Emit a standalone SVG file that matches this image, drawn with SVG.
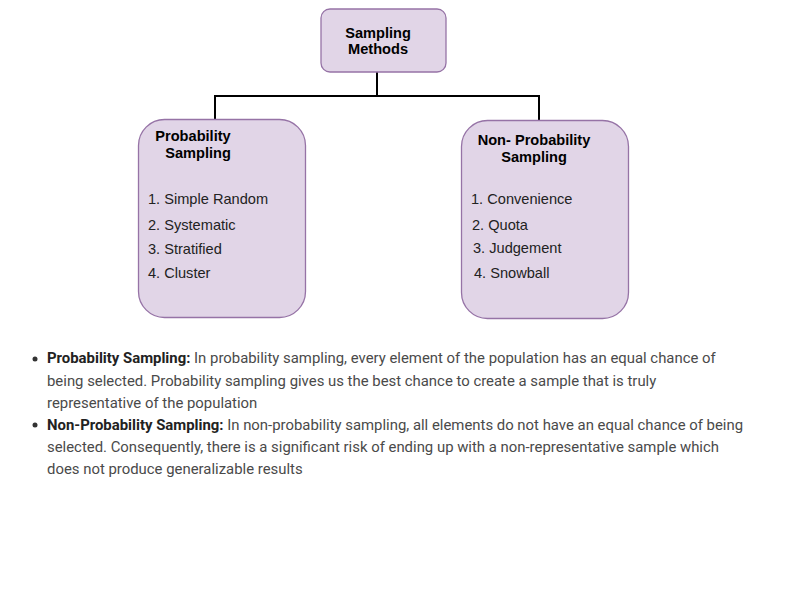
<svg xmlns="http://www.w3.org/2000/svg" width="800" height="600" viewBox="0 0 800 600">
<style>
.box{fill:#e1d5e7;stroke:#9673a6;stroke-width:1.3}
.t{font-family:"Liberation Sans",Arial,sans-serif;font-size:14.6px;font-weight:bold;fill:#000}
.i{font-family:"Liberation Sans",Arial,sans-serif;font-size:14.6px;fill:#222}
.p{font-family:Roboto,"Liberation Sans",sans-serif;font-size:14.9px;fill:#4a4a4a}
.b{font-weight:bold;fill:#222}
.c{fill:none;stroke:#000;stroke-width:2}
</style>
<rect width="800" height="600" fill="#fff"/>
<g id="connectors">
<path class="c" d="M377 72V96M215 96H539M215 95V119M539 95V120"/>
</g>
<g id="root">
<rect class="box" x="321" y="9" width="125" height="63" rx="9"/>
<text class="t" x="378" y="38" text-anchor="middle">Sampling</text>
<text class="t" x="378" y="54" text-anchor="middle">Methods</text>
</g>
<g id="prob">
<rect class="box" x="138.5" y="119.5" width="167" height="198" rx="26"/>
<text class="t" x="193" y="141" text-anchor="middle">Probability</text>
<text class="t" x="198" y="158" text-anchor="middle">Sampling</text>
<text class="i" x="148" y="204">1. Simple Random</text>
<text class="i" x="148" y="230">2. Systematic</text>
<text class="i" x="148" y="254">3. Stratified</text>
<text class="i" x="148" y="278">4. Cluster</text>
</g>
<g id="nonprob">
<rect class="box" x="461.5" y="120.5" width="167" height="198" rx="26"/>
<text class="t" x="534" y="145" text-anchor="middle">Non- Probability</text>
<text class="t" x="534" y="162" text-anchor="middle">Sampling</text>
<text class="i" x="471" y="204">1. Convenience</text>
<text class="i" x="472" y="230">2. Quota</text>
<text class="i" x="473" y="253">3. Judgement</text>
<text class="i" x="474" y="278">4. Snowball</text>
</g>
<g id="notes">
<circle cx="35" cy="359" r="2.5" fill="#333"/>
<circle cx="35" cy="425" r="2.5" fill="#333"/>
<text class="p" x="47" y="363"><tspan class="b">Probability Sampling:</tspan> In probability sampling, every element of the population has an equal chance of</text>
<text class="p" x="47" y="386">being selected. Probability sampling gives us the best chance to create a sample that is truly</text>
<text class="p" x="47" y="408">representative of the population</text>
<text class="p" x="47" y="430"><tspan class="b">Non-Probability Sampling:</tspan> In non-probability sampling, all elements do not have an equal chance of being</text>
<text class="p" x="47" y="452">selected. Consequently, there is a significant risk of ending up with a non-representative sample which</text>
<text class="p" x="47" y="474">does not produce generalizable results</text>
</g>
</svg>
